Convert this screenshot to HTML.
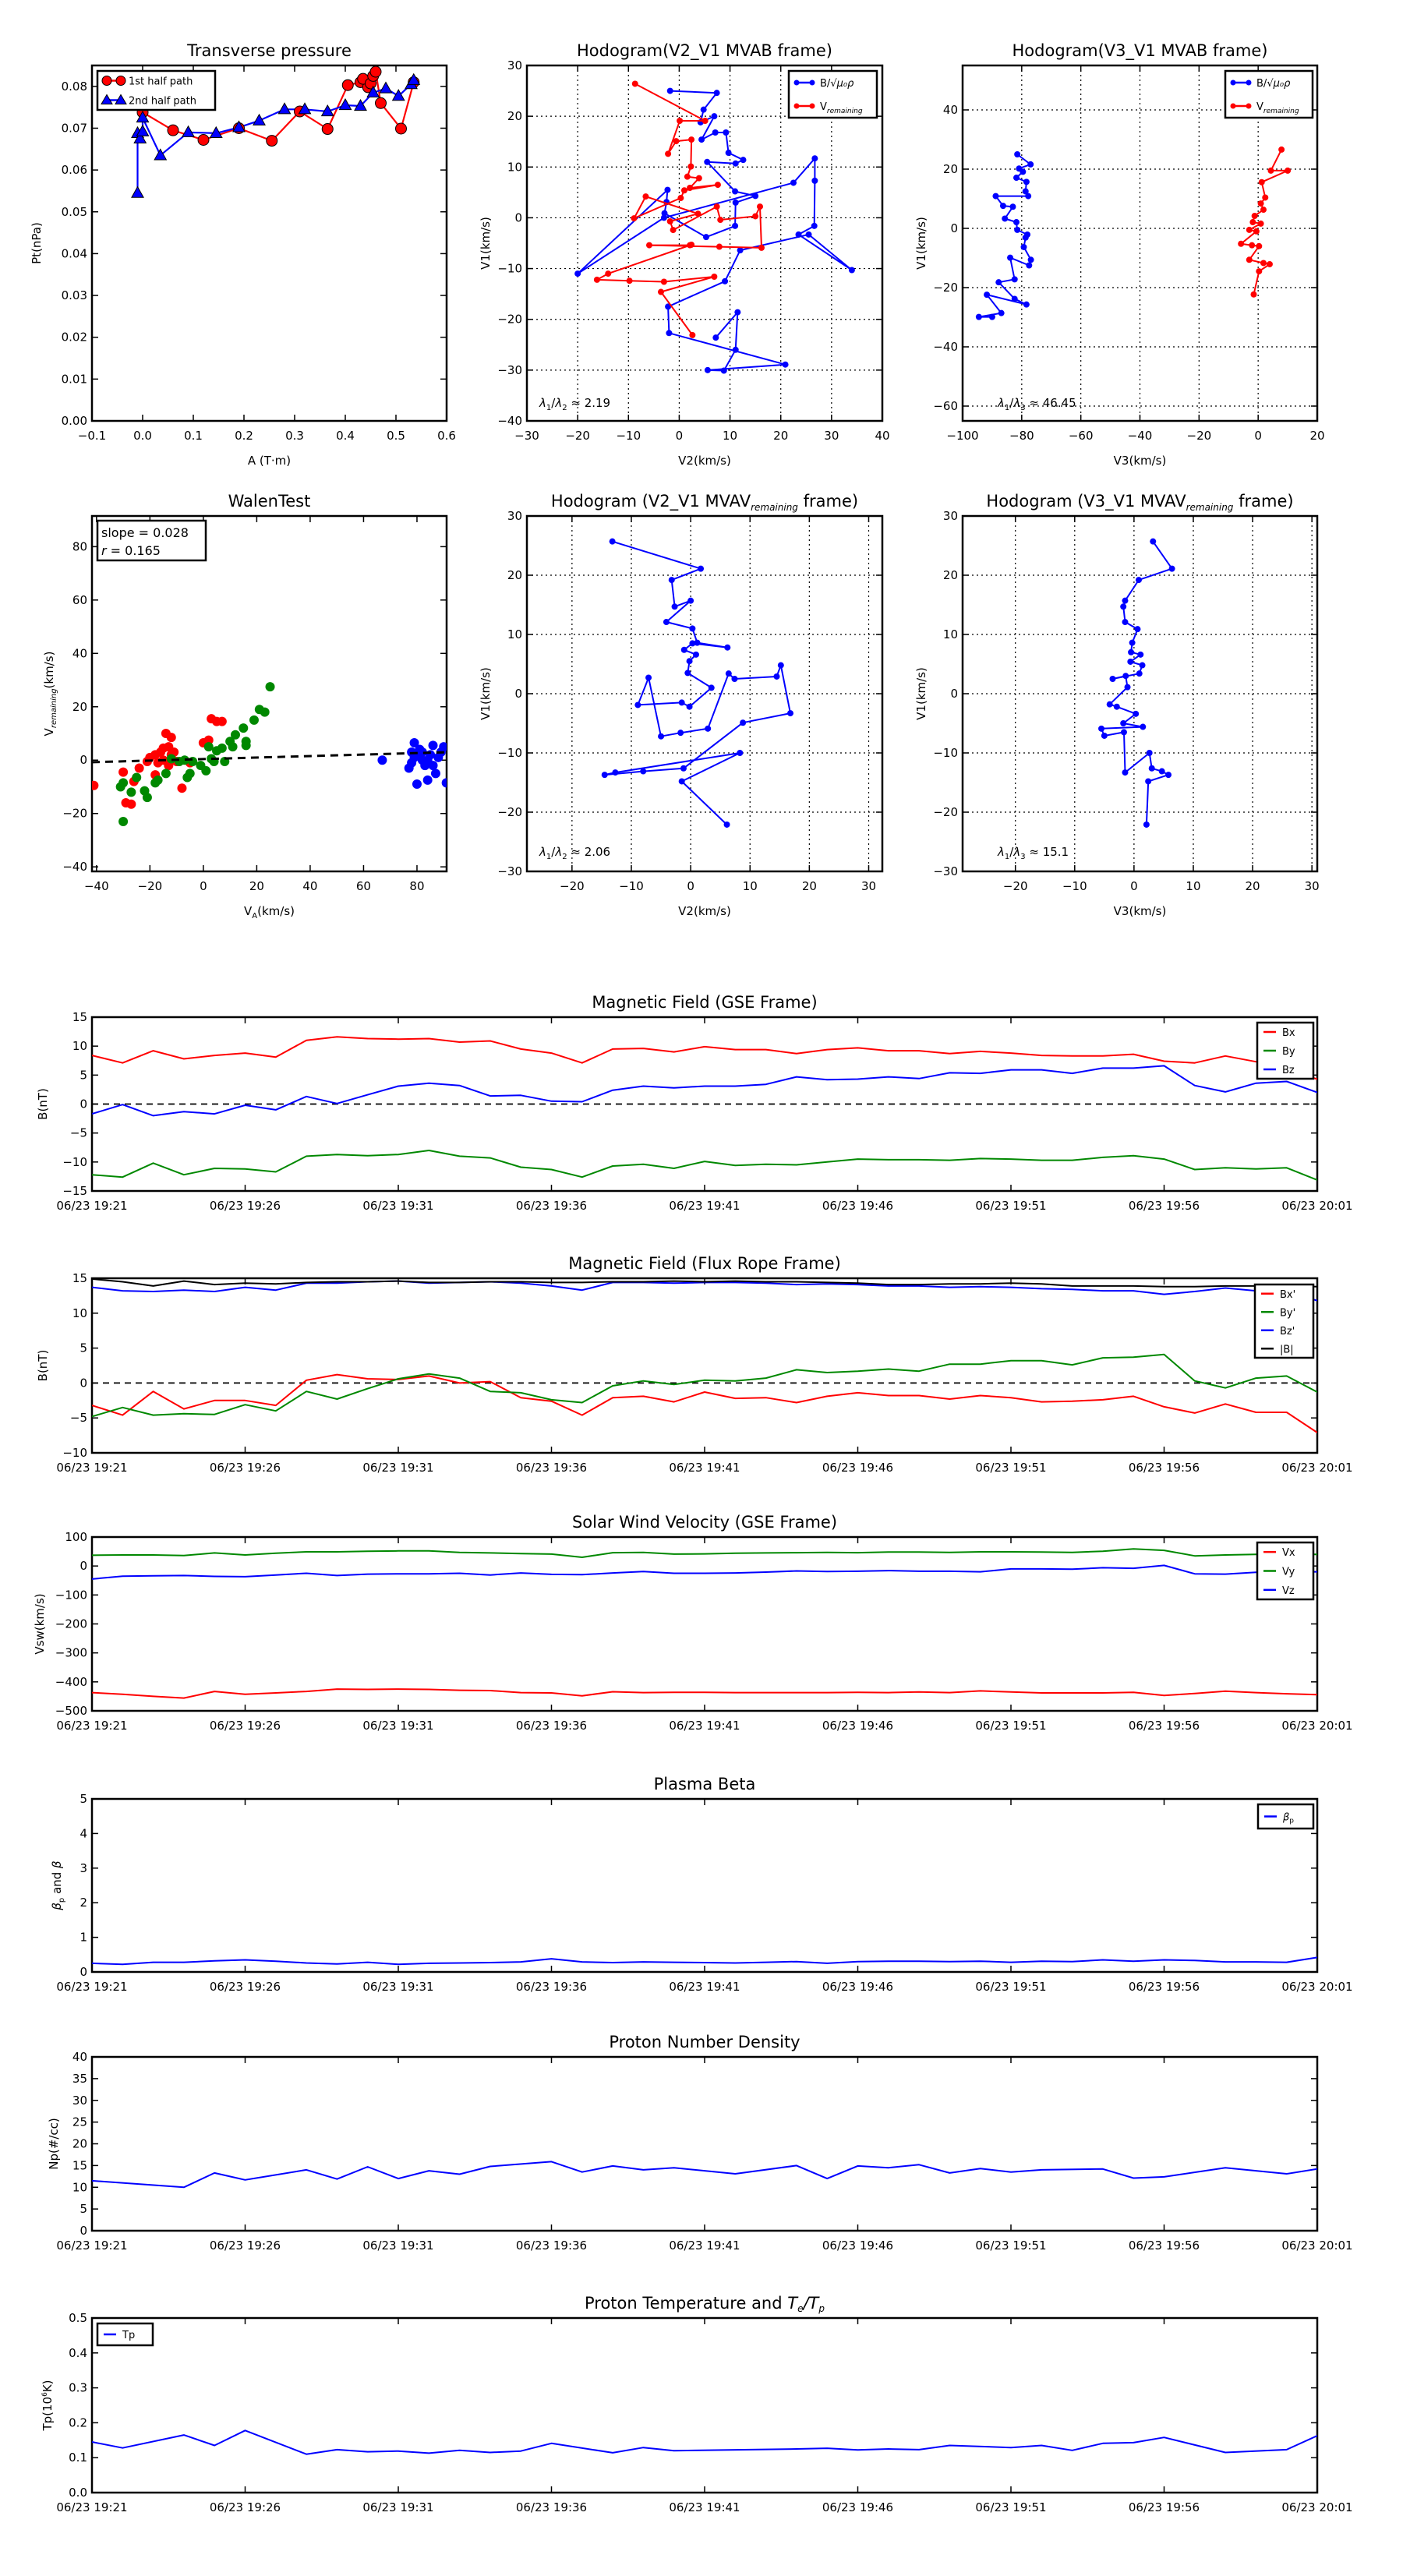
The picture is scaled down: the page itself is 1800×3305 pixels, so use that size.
<!DOCTYPE html>
<html><head><meta charset="utf-8"><style>
body{margin:0;background:#fff;}
svg text{font-family:"DejaVu Sans","Liberation Sans",sans-serif;}
</style></head><body>
<svg id="fig" xmlns="http://www.w3.org/2000/svg" width="1800" height="3300" viewBox="0 0 1800 3300"></svg>
<script>
// ---------- data ----------
const tpA1=[0.0,0.06,0.12,0.19,0.255,0.31,0.365,0.405,0.43,0.445,0.435,0.45,0.455,0.46,0.47,0.51,0.535];
const tpP1=[0.0738,0.0695,0.0672,0.0700,0.0670,0.0740,0.0698,0.0803,0.0810,0.0798,0.0818,0.0807,0.0825,0.0835,0.0760,0.0699,0.0810];
const tpA2=[-0.01,-0.01,-0.005,0.0,0.0,0.035,0.09,0.145,0.19,0.23,0.28,0.32,0.365,0.40,0.43,0.455,0.48,0.505,0.53,0.535];
const tpP2=[0.0545,0.0688,0.0675,0.0692,0.0725,0.0635,0.0690,0.0688,0.0702,0.0718,0.0745,0.0745,0.0740,0.0755,0.0753,0.0785,0.0795,0.0777,0.0805,0.0815];

const h1bx=[-1.8,7.4,4.8,4.2,6.9,4.4,7.1,9.2,9.7,12.6,11.1,5.5,11,15,11.1,11,5.3,-2.9,-2.5,-2.3,-20,-3,22.5,26.7,26.7,26.6,23.5,34,25.5,12,9,-2.2,-2,20.9,5.6,8.8,11.1,11.5,7.2];
const h1by=[25,24.6,21.3,18.8,20,15.4,16.8,16.8,12.8,11.4,10.7,11,5.2,4.3,3,-1.6,-3.8,0.9,3.1,5.5,-11,0,6.9,11.7,7.3,-1.6,-3.3,-10.3,-3.3,-6.4,-12.5,-17.5,-22.7,-28.9,-30,-30.1,-26,-18.6,-23.6];
const h1rx=[-8.7,5.1,0.1,-2.2,-0.6,2.4,2.3,1.6,3.9,2.1,7.6,1,0.3,-8.9,-6.6,3.7,-1.8,-1.2,7.4,8.1,15,15.9,16.2,7.9,-5.9,2.1,2.4,-14,-16.2,-9.8,-3,6.9,-3.6,2.6];
const h1ry=[26.4,19.1,19.1,12.6,15.1,15.4,10.1,8.1,7.8,5.9,6.5,5.4,3.9,-0.1,4.2,0.8,-0.7,-2.4,2.2,-0.4,0.3,2.2,-5.9,-5.7,-5.4,-5.4,-5.3,-11,-12.2,-12.4,-12.6,-11.6,-14.6,-23.1];

const h2bx=[-81.5,-77,-80.9,-79.6,-81.8,-78.4,-78.7,-77.8,-88.8,-86.3,-83,-85.7,-81.8,-81.5,-78.1,-78.7,-79.3,-76.9,-77.5,-83.9,-82.4,-87.8,-82.4,-78.4,-91.8,-86.9,-94.5,-90];
const h2by=[25,21.6,20.2,19.1,17.1,15.7,12.5,10.9,10.9,7.6,7.3,3.3,2.1,-0.5,-2.1,-3.1,-6.3,-10.6,-12.5,-9.9,-17.2,-18.2,-23.8,-25.7,-22.4,-28.6,-29.9,-29.9];
const h2rx=[7.9,4.3,10,1.2,2.4,0.9,1.8,-1.2,-1.8,0.9,-3,-0.6,-5.8,-2.1,0.3,-3,1.8,3.9,0.3,-1.5];
const h2ry=[26.6,19.5,19.5,15.6,10.4,8.4,6.3,4.2,2.1,1.6,-0.5,-1,-5.2,-5.7,-6,-10.6,-11.7,-12.1,-14.5,-22.3];

const wRedX=[-41,-30,-29,-27,-26,-24,-21,-20,-18,-17,-16,-15,-13,-14,-12,-13,-11,-10,-8,-5,0,2,3,5,7,-15,-12,-18];
const wRedY=[-9.5,-4.5,-16,-16.5,-8,-3,-0.5,1,-5.5,-1,3,4.5,5,10,8.5,-2,3,-0.5,-10.5,-1,6.5,7.5,15.5,14.5,14.5,0,2,2];
const wGrnX=[-31,-30,-27,-30,-25,-22,-21,-18,-17,-14,-9,-6,-5,-4,-1,1,2,3,4,5,7,8,10,11,12,15,16,16,19,21,23,25,-7,-12];
const wGrnY=[-10,-8.5,-12,-23,-6.5,-11.5,-14,-8.5,-7.5,-5,-0.5,-6.5,-5,-0.5,-2,-4,5,0.5,-0.5,3.5,4.5,-0.5,7,5,9.5,12,5.5,7,15,19,18,27.5,0,0.5];
const wBluX=[67,78,78,79,80,80,81,82,83,84,85,86,86,87,88,89,90,91,77,82,84,79];
const wBluY=[0,3,-1,6.5,-9,2,4,0,-2,-7.5,2,5.5,-2,-5,1,3,5,-8.5,-3,3,0,1];
const wSlope=0.028, wIntercept=0.4;

const h3x=[-13.2,1.7,-3.2,-2.7,0,-4.1,0.3,1.1,6.2,0.3,-1.1,0.9,-0.2,-0.5,3.5,-0.2,-1.5,-8.9,-7.1,-5,-1.7,2.9,6.4,7.4,14.5,15.2,16.8,8.8,-1.2,-8,-14.5,-12.7,8.3,-1.5,6.1];
const h3y=[25.7,21.1,19.2,14.7,15.7,12.1,11,8.6,7.8,8.5,7.4,6.6,5.5,3.5,1,-2.2,-1.5,-1.9,2.7,-7.2,-6.6,-5.9,3.4,2.5,2.9,4.8,-3.3,-4.9,-12.6,-13.1,-13.7,-13.3,-10,-14.8,-22.1];
const h4x=[3.2,6.4,0.8,-1.5,-1.8,-1.5,0.6,-0.3,-0.5,1.1,-0.6,1.4,0.9,-3.6,-1.4,-1.1,-4.1,-2.9,0.3,-1.8,1.5,-5.5,-5,-1.7,-1.5,2.6,3,4.7,5.8,2.4,2.1];
const h4y=[25.7,21.1,19.2,15.7,14.7,12.1,10.9,8.6,7,6.6,5.4,4.8,3.4,2.5,3,1.1,-1.8,-2.2,-3.4,-5,-5.6,-5.9,-7.1,-6.5,-13.3,-10,-12.6,-13.1,-13.7,-14.8,-22.1];

const timeLabels=["06/23 19:21","06/23 19:26","06/23 19:31","06/23 19:36","06/23 19:41","06/23 19:46","06/23 19:51","06/23 19:56","06/23 20:01"];
const gseBx=[8.4,7.1,9.2,7.8,8.4,8.8,8.1,11.0,11.6,11.3,11.2,11.3,10.7,10.9,9.5,8.8,7.1,9.5,9.6,9.0,9.9,9.4,9.4,8.7,9.4,9.7,9.2,9.2,8.7,9.1,8.8,8.4,8.3,8.3,8.6,7.4,7.1,8.3,7.3,6.0,4.3];
const gseBy=[-12.2,-12.6,-10.2,-12.2,-11.1,-11.2,-11.7,-9.0,-8.7,-8.9,-8.7,-8.0,-9.0,-9.3,-10.9,-11.3,-12.6,-10.7,-10.4,-11.1,-9.9,-10.6,-10.4,-10.5,-10.0,-9.5,-9.6,-9.6,-9.7,-9.4,-9.5,-9.7,-9.7,-9.2,-8.9,-9.5,-11.3,-11.0,-11.2,-11.0,-13.1];
const gseBz=[-1.7,-0.1,-2.0,-1.3,-1.7,-0.2,-1.0,1.3,0.1,1.6,3.1,3.6,3.2,1.4,1.5,0.5,0.4,2.4,3.1,2.8,3.1,3.1,3.4,4.7,4.2,4.3,4.7,4.4,5.4,5.3,5.9,5.9,5.3,6.2,6.2,6.6,3.2,2.1,3.6,3.9,2.0];
const frBx=[-3.2,-4.6,-1.2,-3.7,-2.5,-2.5,-3.2,0.4,1.2,0.6,0.5,1.0,0,0.2,-2.1,-2.6,-4.6,-2.1,-1.9,-2.7,-1.3,-2.2,-2.1,-2.8,-1.9,-1.4,-1.8,-1.8,-2.3,-1.8,-2.1,-2.7,-2.6,-2.4,-1.9,-3.4,-4.3,-3.0,-4.2,-4.2,-7.1];
const frBy=[-4.8,-3.5,-4.6,-4.4,-4.5,-3.1,-4.0,-1.2,-2.3,-0.8,0.6,1.3,0.7,-1.2,-1.4,-2.4,-2.8,-0.4,0.3,-0.2,0.4,0.3,0.7,1.9,1.5,1.7,2.0,1.7,2.7,2.7,3.2,3.2,2.6,3.6,3.7,4.1,0.3,-0.7,0.7,1.0,-1.3];
const frBz=[13.7,13.2,13.1,13.3,13.1,13.7,13.3,14.3,14.3,14.5,14.6,14.3,14.4,14.5,14.3,13.9,13.3,14.4,14.4,14.3,14.4,14.4,14.3,14.1,14.2,14.1,13.9,13.9,13.7,13.8,13.7,13.5,13.4,13.2,13.2,12.7,13.1,13.6,13.2,13.0,11.8];
const frBt=[14.9,14.5,13.9,14.6,14.1,14.3,14.2,14.4,14.5,14.5,14.6,14.4,14.4,14.5,14.5,14.4,14.4,14.5,14.5,14.6,14.5,14.6,14.5,14.5,14.4,14.3,14.1,14.1,14.2,14.2,14.3,14.2,13.9,13.9,13.9,13.8,13.8,13.9,13.9,13.9,13.8];
const vx=[-437,-443,-450,-456,-433,-443,-438,-433,-425,-426,-425,-426,-429,-430,-437,-438,-448,-434,-437,-436,-436,-437,-437,-437,-437,-436,-437,-435,-437,-431,-435,-438,-438,-438,-436,-447,-440,-432,-437,-441,-444];
const vy=[37,38,38,36,45,38,44,49,49,51,52,52,47,45,43,41,30,46,47,41,42,44,45,46,47,46,48,48,47,49,49,48,47,51,59,54,35,38,40,40,40];
const vz=[-45,-35,-34,-33,-36,-37,-31,-25,-33,-28,-27,-27,-25,-31,-24,-29,-30,-24,-19,-25,-25,-24,-21,-17,-19,-18,-16,-18,-18,-20,-10,-10,-11,-6,-8,2,-27,-28,-22,-20,-20];
const beta=[0.25,0.22,0.28,0.28,0.32,0.35,0.31,0.26,0.23,0.28,0.22,0.25,0.26,0.27,0.29,0.38,0.29,0.27,0.29,0.28,0.27,0.26,0.28,0.30,0.25,0.30,0.31,0.31,0.30,0.31,0.28,0.31,0.30,0.35,0.31,0.35,0.33,0.29,0.29,0.28,0.42];
const npT=[0,3,4,5,7,8,9,10,11,12,13,15,16,17,18,19,21,23,24,25,26,27,28,29,30,31,33,34,35,37,39,40];
const npV=[11.5,10.0,13.3,11.7,14.0,11.9,14.7,12.0,13.8,13.0,14.8,15.9,13.5,14.9,14.0,14.5,13.1,15.0,12.0,14.9,14.5,15.2,13.3,14.3,13.5,14.0,14.2,12.1,12.4,14.5,13.1,14.2];
const tpT=[0,1,3,4,5,7,8,9,10,11,12,13,14,15,17,18,19,23,24,25,26,27,28,30,31,32,33,34,35,37,39,40];
const tpV=[0.145,0.128,0.165,0.135,0.178,0.110,0.123,0.117,0.119,0.113,0.121,0.115,0.119,0.141,0.114,0.129,0.120,0.125,0.127,0.122,0.125,0.123,0.135,0.129,0.135,0.121,0.141,0.143,0.158,0.115,0.123,0.163];

// ---------- helpers ----------
const NS="http://www.w3.org/2000/svg";
const svg=document.getElementById('fig');
function el(tag,attrs,parent){const e=document.createElementNS(NS,tag);for(const k in attrs)e.setAttribute(k,attrs[k]);(parent||svg).appendChild(e);return e;}
function fmt(v,d){const s=v.toFixed(d);return s.replace('-','\u2212');}
function range(a,b,s){const r=[];for(let v=a;v<=b+1e-9;v+=s)r.push(+v.toFixed(6));return r;}

function makeAxes(c){
  const g=el('g',{});
  
  
  const sx=v=>c.x0+(v-c.xr[0])/(c.xr[1]-c.xr[0])*(c.x1-c.x0);
  const sy=v=>c.y1-(v-c.yr[0])/(c.yr[1]-c.yr[0])*(c.y1-c.y0);
  // grid
  if(c.grid){
    c.xt.forEach(v=>{const x=sx(v);el('line',{x1:x,x2:x,y1:c.y0,y2:c.y1,stroke:'#000','stroke-width':1.2,'stroke-dasharray':'2,4'},g);});
    c.yt.forEach(v=>{const y=sy(v);el('line',{x1:c.x0,x2:c.x1,y1:y,y2:y,stroke:'#000','stroke-width':1.2,'stroke-dasharray':'2,4'},g);});
  }
  // ticks
  c.xt.forEach((v,i)=>{const x=sx(v);
    el('line',{x1:x,x2:x,y1:c.y1,y2:c.y1-8,stroke:'#000','stroke-width':1.5},g);
    el('line',{x1:x,x2:x,y1:c.y0,y2:c.y0+8,stroke:'#000','stroke-width':1.5},g);
    const t=el('text',{x:x,y:c.y1+24,'font-size':15,'text-anchor':'middle'},g);
    t.textContent=c.xl?c.xl[i]:fmt(v,c.xd||0);
    
    
  });
  c.yt.forEach(v=>{const y=sy(v);
    el('line',{x1:c.x0,x2:c.x0+8,y1:y,y2:y,stroke:'#000','stroke-width':1.5},g);
    el('line',{x1:c.x1,x2:c.x1-8,y1:y,y2:y,stroke:'#000','stroke-width':1.5},g);
    const t=el('text',{x:c.x0-6,y:y+5,'font-size':15,'text-anchor':'end'},g);
    t.textContent=fmt(v,c.yd||0);
    
    
  });
  // frame
  el('rect',{x:c.x0,y:c.y0,width:c.x1-c.x0,height:c.y1-c.y0,fill:'none',stroke:'#000','stroke-width':2.5},g);
  // title
  const tt=el('text',{x:(c.x0+c.x1)/2,y:c.y0-12,'font-size':21,'text-anchor':'middle'},g);
  tt.innerHTML=c.title;
  
  
  if(c.xlabel){const t=el('text',{x:(c.x0+c.x1)/2,y:c.y1+56,'font-size':15,'text-anchor':'middle'},g);t.innerHTML=c.xlabel;
    
    }
  if(c.ylabel){const yy=(c.y0+c.y1)/2,xx=c.x0-(c.ylo||58);const t=el('text',{x:xx,y:yy,'font-size':15,'text-anchor':'middle',transform:`rotate(-90 ${xx} ${yy})`},g);t.innerHTML=c.ylabel;
    
    }
  const clip='clip'+Math.round(c.x0)+'_'+Math.round(c.y0);
  const cp=el('clipPath',{id:clip},g);el('rect',{x:c.x0,y:c.y0,width:c.x1-c.x0,height:c.y1-c.y0},cp);
  const pg=el('g',{'clip-path':`url(#${clip})`},g);
  
  
  return {sx,sy,g,pg,c};
}
function line(ax,xs,ys,color,w,name){
  const pts=xs.map((x,i)=>ax.sx(x).toFixed(1)+','+ax.sy(ys[i]).toFixed(1)).join(' ');
  const p=el('polyline',{points:pts,fill:'none',stroke:color,'stroke-width':w||2,'stroke-linejoin':'round'},ax.pg);
  
  
  return p;
}
function dots(ax,xs,ys,color,r,name,edge){
  xs.forEach((x,i)=>{const d=el('circle',{cx:ax.sx(x),cy:ax.sy(ys[i]),r:r,fill:color,stroke:edge||'none','stroke-width':1},ax.pg);
    
    });
}
function tris(ax,xs,ys,color,s,name){
  xs.forEach((x,i)=>{const cx=ax.sx(x),cy=ax.sy(ys[i]);
    const d=el('polygon',{points:`${cx},${cy-s} ${cx-s*0.95},${cy+s*0.7} ${cx+s*0.95},${cy+s*0.7}`,fill:color,stroke:'#000','stroke-width':1},ax.pg);
    
    });
}
function legend(x,y,w,h,items,fs){
  const g=el('g',{});
  
  
  el('rect',{x:x,y:y,width:w,height:h,fill:'#fff',stroke:'#000','stroke-width':2.5},g);
  const step=h/items.length;
  items.forEach((it,i)=>{const cy=y+step*(i+0.5);
    const eg=el('g',{},g);
    
    
    el('line',{x1:x+8,x2:x+(it.mk?32:24),y1:cy,y2:cy,stroke:it.c,'stroke-width':2.5},eg);
    if(it.mk==='o'){el('circle',{cx:x+12,cy:cy,r:6,fill:it.c,stroke:'#000'},eg);el('circle',{cx:x+30,cy:cy,r:6,fill:it.c,stroke:'#000'},eg);}
    if(it.mk==='.'){el('circle',{cx:x+10,cy:cy,r:3.5,fill:it.c},eg);el('circle',{cx:x+30,cy:cy,r:3.5,fill:it.c},eg);}
    if(it.mk==='^'){[12,30].forEach(px=>el('polygon',{points:`${x+px},${cy-7} ${x+px-7},${cy+5} ${x+px+7},${cy+5}`,fill:it.c,stroke:'#000'},eg));}
    const t=el('text',{x:x+(it.mk?40:32),y:cy+5,'font-size':fs||14},eg);t.innerHTML=it.t;
  });
}

// ---------- top row ----------
const TOP={y0:84,y1:540};
let a=makeAxes({name:'transverse-pressure-chart',x0:118,x1:573,...TOP,xr:[-0.1,0.6],yr:[0,0.085],xt:range(-0.1,0.6,0.1),yt:range(0,0.08,0.01),xd:1,yd:2,title:'Transverse pressure',xlabel:'A (T·m)',ylabel:'Pt(nPa)',ylo:66});
line(a,tpA1,tpP1,'#f00',2.2,'first-half-path-line');
line(a,tpA2,tpP2,'#00f',2.2,'second-half-path-line');
dots(a,tpA1,tpP1,'#f00',7,'first-half-point','#000');
tris(a,tpA2,tpP2,'#00f',8,'second-half-point');
legend(125,91,151,50,[{c:'#f00',mk:'o',t:'1st half path'},{c:'#00f',mk:'^',t:'2nd half path'}],13);

a=makeAxes({name:'hodogram-v2-v1-mvab',x0:676,x1:1132,...TOP,xr:[-30,40],yr:[-40,30],xt:range(-30,40,10),yt:range(-40,30,10),grid:true,title:'Hodogram(V2_V1 MVAB frame)',xlabel:'V2(km/s)',ylabel:'V1(km/s)',ylo:48});
line(a,h1bx,h1by,'#00f',2,'b-alfven-line');dots(a,h1bx,h1by,'#00f',4,'b-alfven-point');
line(a,h1rx,h1ry,'#f00',2,'v-remaining-line');dots(a,h1rx,h1ry,'#f00',4,'v-remaining-point');
legend(1012,91,113,60,[{c:'#00f',mk:'.',t:'B/<tspan font-style="italic">√μ₀ρ</tspan>'},{c:'#f00',mk:'.',t:'V<tspan font-size="9" font-style="italic" dy="4">remaining</tspan>'}],13);
el('text',{x:692,y:522,'font-size':15}).innerHTML='<tspan font-style="italic">λ</tspan><tspan font-size="10" dy="4">1</tspan><tspan dy="-4">/</tspan><tspan font-style="italic">λ</tspan><tspan font-size="10" dy="4">2</tspan><tspan dy="-4"> ≈ 2.19</tspan>';

a=makeAxes({name:'hodogram-v3-v1-mvab',x0:1235,x1:1690,...TOP,xr:[-100,20],yr:[-65,55],xt:range(-100,20,20),yt:range(-60,40,20),grid:true,title:'Hodogram(V3_V1 MVAB frame)',xlabel:'V3(km/s)',ylabel:'V1(km/s)',ylo:48});
line(a,h2bx,h2by,'#00f',2,'b-alfven-line');dots(a,h2bx,h2by,'#00f',4,'b-alfven-point');
line(a,h2rx,h2ry,'#f00',2,'v-remaining-line');dots(a,h2rx,h2ry,'#f00',4,'v-remaining-point');
legend(1572,91,112,60,[{c:'#00f',mk:'.',t:'B/<tspan font-style="italic">√μ₀ρ</tspan>'},{c:'#f00',mk:'.',t:'V<tspan font-size="9" font-style="italic" dy="4">remaining</tspan>'}],13);
el('text',{x:1280,y:522,'font-size':15}).innerHTML='<tspan font-style="italic">λ</tspan><tspan font-size="10" dy="4">1</tspan><tspan dy="-4">/</tspan><tspan font-style="italic">λ</tspan><tspan font-size="10" dy="4">3</tspan><tspan dy="-4"> ≈ 46.45</tspan>';

// ---------- second row ----------
const MID={y0:662,y1:1118};
a=makeAxes({name:'walen-test-chart',x0:118,x1:573,...MID,xr:[-41.7,91.1],yr:[-41.7,91.5],xt:range(-40,80,20),yt:range(-40,80,20),title:'WalenTest',xlabel:'V<tspan font-size="10" dy="4">A</tspan><tspan dy="-4">(km/s)</tspan>',ylabel:'V<tspan font-size="10" font-style="italic" dy="4">remaining</tspan><tspan dy="-4">(km/s)</tspan>',ylo:50});
dots(a,wRedX,wRedY,'#f00',6,'walen-red-point');
dots(a,wGrnX,wGrnY,'#080',6,'walen-green-point');
dots(a,wBluX,wBluY,'#00f',6,'walen-blue-point');
{const xs=[-41.7,91.1];line(a,xs,xs.map(x=>wSlope*x+wIntercept),'#000',3,'walen-fit-line').setAttribute('stroke-dasharray','10,7');}
{const g=el('g',{});
 el('rect',{x:125,y:668,width:139,height:51,fill:'#fff',stroke:'#000','stroke-width':2.5},g);
 el('text',{x:130,y:689,'font-size':16},g).textContent='slope = 0.028';
 el('text',{x:130,y:712,'font-size':16},g).innerHTML='<tspan font-style="italic">r</tspan> = 0.165';}

a=makeAxes({name:'hodogram-v2-v1-mvav',x0:676,x1:1132,...MID,xr:[-27.6,32.3],yr:[-30,30],xt:range(-20,30,10),yt:range(-30,30,10),grid:true,title:'Hodogram (V2_V1 MVAV<tspan font-size="12" font-style="italic" dy="5">remaining</tspan><tspan dy="-5"> frame)</tspan>',xlabel:'V2(km/s)',ylabel:'V1(km/s)',ylo:48});
line(a,h3x,h3y,'#00f',2,'hodogram-line');dots(a,h3x,h3y,'#00f',4,'hodogram-point');
el('text',{x:692,y:1098,'font-size':15}).innerHTML='<tspan font-style="italic">λ</tspan><tspan font-size="10" dy="4">1</tspan><tspan dy="-4">/</tspan><tspan font-style="italic">λ</tspan><tspan font-size="10" dy="4">2</tspan><tspan dy="-4"> ≈ 2.06</tspan>';

a=makeAxes({name:'hodogram-v3-v1-mvav',x0:1235,x1:1690,...MID,xr:[-28.9,30.9],yr:[-30,30],xt:range(-20,30,10),yt:range(-30,30,10),grid:true,title:'Hodogram (V3_V1 MVAV<tspan font-size="12" font-style="italic" dy="5">remaining</tspan><tspan dy="-5"> frame)</tspan>',xlabel:'V3(km/s)',ylabel:'V1(km/s)',ylo:48});
line(a,h4x,h4y,'#00f',2,'hodogram-line');dots(a,h4x,h4y,'#00f',4,'hodogram-point');
el('text',{x:1280,y:1098,'font-size':15}).innerHTML='<tspan font-style="italic">λ</tspan><tspan font-size="10" dy="4">1</tspan><tspan dy="-4">/</tspan><tspan font-style="italic">λ</tspan><tspan font-size="10" dy="4">3</tspan><tspan dy="-4"> ≈ 15.1</tspan>';

// ---------- time series ----------
const T41=range(0,40,1);
const TX={x0:118,x1:1690,xr:[0,40],xt:range(0,40,5),xl:timeLabels,ylo:58};
function zeroLine(ax){line(ax,[0,40],[0,0],'#000',1.8,'zero-line').setAttribute('stroke-dasharray','8,6');}

a=makeAxes({name:'magnetic-field-gse-chart',...TX,y0:1305,y1:1528,yr:[-15,15],yt:range(-15,15,5),title:'Magnetic Field (GSE Frame)',ylabel:'B(nT)'});
zeroLine(a);
line(a,T41,gseBx,'#f00',2,'bx-line');line(a,T41,gseBy,'#080',2,'by-line');line(a,T41,gseBz,'#00f',2,'bz-line');
legend(1613,1312,72,72,[{c:'#f00',t:'Bx'},{c:'#080',t:'By'},{c:'#00f',t:'Bz'}],13);

a=makeAxes({name:'magnetic-field-flux-rope-chart',...TX,y0:1640,y1:1864,yr:[-10,15],yt:range(-10,15,5),title:'Magnetic Field (Flux Rope Frame)',ylabel:'B(nT)'});
zeroLine(a);
line(a,T41,frBx,'#f00',2,'bx-prime-line');line(a,T41,frBy,'#080',2,'by-prime-line');line(a,T41,frBz,'#00f',2,'bz-prime-line');line(a,T41,frBt,'#000',2,'b-total-line');
legend(1610,1648,75,94,[{c:'#f00',t:"Bx'"},{c:'#080',t:"By'"},{c:'#00f',t:"Bz'"},{c:'#000',t:'|B|'}],13);

a=makeAxes({name:'solar-wind-velocity-chart',...TX,y0:1972,y1:2195,yr:[-500,100],yt:range(-500,100,100),title:'Solar Wind Velocity (GSE Frame)',ylabel:'Vsw(km/s)',ylo:62});
line(a,T41,vx,'#f00',2,'vx-line');line(a,T41,vy,'#080',2,'vy-line');line(a,T41,vz,'#00f',2,'vz-line');
legend(1613,1979,72,73,[{c:'#f00',t:'Vx'},{c:'#080',t:'Vy'},{c:'#00f',t:'Vz'}],13);

a=makeAxes({name:'plasma-beta-chart',...TX,y0:2308,y1:2530,yr:[0,5],yt:range(0,5,1),title:'Plasma Beta',ylabel:'<tspan font-style="italic">β</tspan><tspan font-size="10" dy="4">p</tspan><tspan dy="-4"> and </tspan><tspan font-style="italic">β</tspan>',ylo:40});
line(a,T41,beta,'#00f',2,'beta-line');
legend(1614,2315,71,31,[{c:'#00f',t:'<tspan font-style="italic">β</tspan><tspan font-size="9" dy="3">p</tspan>'}],13);

a=makeAxes({name:'proton-density-chart',...TX,y0:2639,y1:2862,yr:[0,40],yt:range(0,40,5),title:'Proton Number Density',ylabel:'Np(#/cc)',ylo:44});
line(a,npT,npV,'#00f',2,'density-line');

a=makeAxes({name:'proton-temperature-chart',...TX,y0:2974,y1:3198,yr:[0,0.5],yt:range(0,0.5,0.1),yd:1,title:'Proton Temperature and <tspan font-style="italic">T<tspan font-size="12" dy="4">e</tspan><tspan dy="-4">/T</tspan><tspan font-size="12" dy="4">p</tspan></tspan>',ylabel:'Tp(10<tspan font-size="9" dy="-6">6</tspan><tspan dy="6">K)</tspan>',ylo:52});
line(a,tpT,tpV,'#00f',2,'temperature-line');
legend(125,2981,71,28,[{c:'#00f',t:'Tp'}],13);
</script>
</body></html>
